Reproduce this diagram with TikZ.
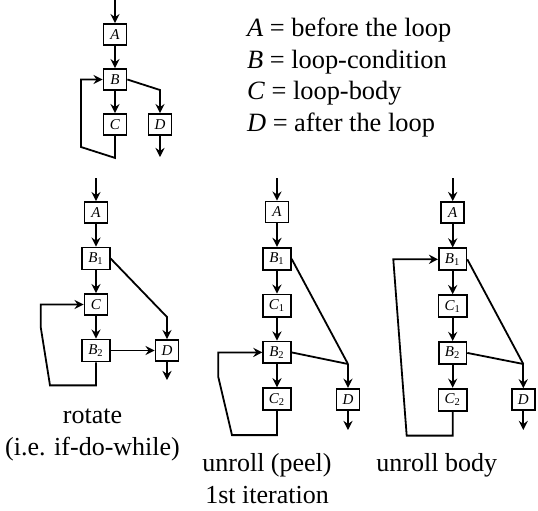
\documentclass[tikz,border=0pt]{standalone}
\usepackage{fontspec}
\setmainfont{Liberation Serif}
\usetikzlibrary{arrows.meta, positioning}

\newcommand{\sub}[2]{#1\textsubscript{\upshape #2}}

\begin{document}
\begin{tikzpicture}[x=0.5pt, y=-0.5pt, node distance=23.4pt]
        % Define block styles
        \tikzstyle{blk} = [rectangle, draw=black, line width=0.9pt, minimum width=11.5pt, minimum height=10.5pt, inner xsep=3pt, inner ysep=2.5pt, text centered, font=\fontsize{7.5}{9}\selectfont\itshape]
        \tikzstyle{arrow} = [line width=0.9pt, ->, >={Stealth[length=4.6pt, width=4.6pt, inset=1.6pt]}]
        \tikzstyle{loopline} = [line width=0.9pt, ->, >={Stealth[length=4.6pt, width=4.6pt, inset=1.6pt]}]
        \tikzstyle{caption} = [align=center, anchor=base, inner sep=0pt, font=\fontsize{13}{15.65}\selectfont]
        \tikzstyle{legend} = [anchor=base west, inner sep=0pt, font=\fontsize{13.2}{15.65}\selectfont]

        \useasboundingbox (0,0) rectangle (538,511);

        % The original loop
        \node (tA) [blk] at (115,34.5) {A};
        \node (tB) [blk, below of=tA, node distance=22.5pt] {B};
        \node (tC) [blk, below of=tB, node distance=22.5pt] {C};
        \node (tD) [blk, right of=tC, node distance=22.5pt] {D};
        \coordinate (tIn) at (115,0);
        \coordinate (tOut) at (160,157);
        \coordinate (tK) at (160,90);

        \draw [arrow] (tIn) -- (tA);
        \draw [arrow] (tA) -- (tB);
        \draw [arrow] (tB) -- (tC);
        \draw [arrow] (tB.east) -- (tK) -- (tD);
        \draw [arrow] (tD) -- (tOut);
        \draw [loopline] (tC.south) -- ++(0,22) -- (81,147) |- (tB.west);

        % Legend
        \node (lgA) [legend] at (246.7,36.7) {\textit{A} = before the loop};
        \node (lgB) [legend] at (246.7,68.5) {\textit{B} = loop-condition};
        \node (lgC) [legend] at (246.7,99.8) {\textit{C} = loop-body};
        \node (lgD) [legend] at (246.7,131) {\textit{D} = after the loop};

        % Rotate
        \node (rA) [blk] at (96,212.5) {A};
        \node (rB1) [blk, below of=rA, node distance=23pt] {\sub{B}{1}};
        \node (rC) [blk, below of=rB1, node distance=23pt] {C};
        \node (rB2) [blk, below of=rC, node distance=23pt] {\sub{B}{2}};
        \node (rD) [blk, right of=rB2, node distance=35.5pt] {D};
        \coordinate (rIn) at (96,178);
        \coordinate (rOut) at (167,380);
        \coordinate (rK) at (167,317);

        \draw [arrow] (rIn) -- (rA);
        \draw [arrow] (rA) -- (rB1);
        \draw [arrow] (rB1) -- (rC);
        \draw [arrow] (rC) -- (rB2);
        \draw [arrow] (rB2) -- (rD);
        \draw [arrow] (rB1.east) -- (rK) -- (rD);
        \draw [arrow] (rD) -- (rOut);
        \draw [loopline] (rB2.south) -- ++(0,23) -- ++(-46,0) -- (40.7,327) |- (rC.west);

        \node (capR) [caption] at (92.5,455) {rotate\\(i.e. if-do-while)};

        % Unroll (peel) 1st iteration
        \node (mA) [blk] at (277,212) {A};
        \node (mB1) [blk, below of=mA] {\sub{B}{1}};
        \node (mC1) [blk, below of=mB1] {\sub{C}{1}};
        \node (mB2) [blk, below of=mC1] {\sub{B}{2}};
        \node (mC2) [blk, below of=mB2] {\sub{C}{2}};
        \node (mD) [blk, right of=mC2, node distance=35.5pt] {D};
        \coordinate (mIn) at (277,178);
        \coordinate (mOut) at (348,430);
        \coordinate (mK) at (348,364);

        \draw [arrow] (mIn) -- (mA);
        \draw [arrow] (mA) -- (mB1);
        \draw [arrow] (mB1) -- (mC1);
        \draw [arrow] (mC1) -- (mB2);
        \draw [arrow] (mB2) -- (mC2);
        \draw [line width=0.9pt] (mB1.east) -- (mK);
        \draw [line width=0.9pt] (mB2.east) -- (mK);
        \draw [arrow] (mK) -- (mD);
        \draw [arrow] (mD) -- (mOut);
        \draw [loopline] (mC2.south) -- ++(0,24) -- ++(-45,0) -- (218.3,377) |- (mB2.west);

        \node (capM) [caption] at (267,503) {unroll (peel)\\1st iteration};

        % Unroll body
        \node (xA) [blk] at (452.7,212.5) {A};
        \node (xB1) [blk, below of=xA] {\sub{B}{1}};
        \node (xC1) [blk, below of=xB1] {\sub{C}{1}};
        \node (xB2) [blk, below of=xC1] {\sub{B}{2}};
        \node (xC2) [blk, below of=xB2] {\sub{C}{2}};
        \node (xD) [blk, right of=xC2, node distance=35.3pt] {D};
        \coordinate (xIn) at (452.7,178);
        \coordinate (xOut) at (523.3,430);
        \coordinate (xK) at (523.3,364);

        \draw [arrow] (xIn) -- (xA);
        \draw [arrow] (xA) -- (xB1);
        \draw [arrow] (xB1) -- (xC1);
        \draw [arrow] (xC1) -- (xB2);
        \draw [arrow] (xB2) -- (xC2);
        \draw [line width=0.9pt] (xB1.east) -- (xK);
        \draw [line width=0.9pt] (xB2.east) -- (xK);
        \draw [arrow] (xK) -- (xD);
        \draw [arrow] (xD) -- (xOut);
        \draw [loopline] (xC2.south) -- ++(0,24) -- ++(-46,0) -- (393.3,259.3) |- (xB1.west);

        \node (capX) [caption] at (436.7,471.7) {unroll body};
    \end{tikzpicture}
\end{document}
